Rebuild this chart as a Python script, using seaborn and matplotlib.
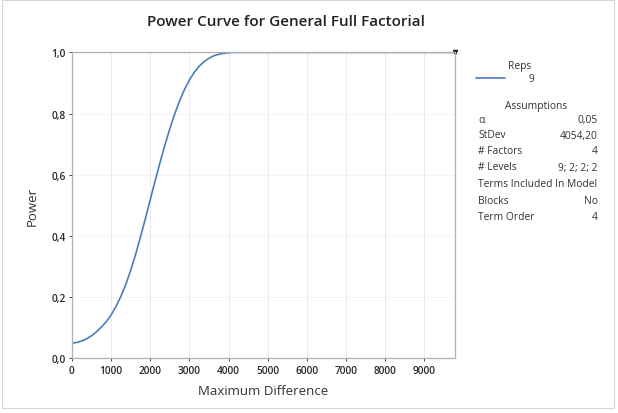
import matplotlib
matplotlib.use("Agg")
import matplotlib.pyplot as plt
import seaborn as sns
import pandas as pd

# Data
max_diff = [0, 125, 250, 375, 500, 625, 750, 875, 1000, 1125, 1250, 1375, 1500,
            1625, 1750, 1875, 2000, 2125, 2250, 2375, 2500, 2625, 2750, 2875,
            3000, 3125, 3250, 3375, 3500, 3625, 3750, 3875, 4000, 4125, 4500,
            5000, 6000, 7000, 8000, 9000, 9780]
power = [0.050, 0.052, 0.057, 0.064, 0.074, 0.087, 0.102, 0.120, 0.142, 0.170,
         0.203, 0.242, 0.288, 0.340, 0.397, 0.457, 0.519, 0.581, 0.641, 0.698,
         0.751, 0.799, 0.842, 0.879, 0.910, 0.935, 0.955, 0.970, 0.981, 0.989,
         0.994, 0.997, 0.999, 1.0, 1.0, 1.0, 1.0, 1.0, 1.0, 1.0, 1.0]
x_ticks = [0, 1000, 2000, 3000, 4000, 5000, 6000, 7000, 8000, 9000]
y_ticks = [0.0, 0.2, 0.4, 0.6, 0.8, 1.0]
y_tick_labels = ["0,0", "0,2", "0,4", "0,6", "0,8", "1,0"]
reps = "9"
assump_labels = ["α", "StDev", "# Factors", "# Levels"]
assump_values = ["0,05", "4054,20", "4", "9; 2; 2; 2"]
model_labels = ["Blocks", "Term Order"]
model_values = ["No", "4"]

df = pd.DataFrame({"Maximum Difference": max_diff, "Power": power})

sns.set_theme(style="white")
plt.rcParams["font.family"] = ["Open Sans", "DejaVu Sans"]

fig = plt.figure(figsize=(6.18, 4.14), dpi=100)
fig.patch.set_facecolor("white")
ax = fig.add_axes([0.1165, 0.132, 0.6195, 0.739])

sns.lineplot(data=df, x="Maximum Difference", y="Power", ax=ax,
             color="#4a7ebb", linewidth=1.2)
ax.plot([max_diff[-1]], [power[-1]], marker="v", color="#222222",
        markersize=3, clip_on=False)

ax.set_xlim(0, max_diff[-1])
ax.set_ylim(0, 1.0)
ax.set_xticks(x_ticks)
ax.set_xticklabels([str(t) for t in x_ticks])
ax.set_yticks(y_ticks)
ax.set_yticklabels(y_tick_labels)
ax.tick_params(axis="both", labelsize=7.3, colors="#2a2a2a", length=2.5,
               width=0.6, pad=2, direction="out", bottom=True, left=True)
for lbl in ax.get_xticklabels() + ax.get_yticklabels():
    lbl.set_fontweight("semibold")
for s in ax.spines.values():
    s.set_color("#b0b0b0")
    s.set_linewidth(0.9)
ax.grid(True, axis="x", color="#e6e6e6", linewidth=0.6)
ax.grid(True, axis="y", color="#f2f2f2", linewidth=0.6)
ax.set_axisbelow(True)
ax.set_xlabel("Maximum Difference", fontsize=9.5, color="#333333", labelpad=6)
ax.set_ylabel("Power", fontsize=9.5, color="#333333", labelpad=9)

fig.text(0.462, 0.948, "Power Curve for General Full Factorial", ha="center",
         va="center", fontsize=11, color="#222222", fontweight="semibold")

# Legend / annotation panel
tc = "#333333"
fs = 7.4
W, H = 618, 414
def fx(px): return px / W
def fy(py): return 1 - py / H

fig.text(fx(520), fy(66), "Reps", ha="center", va="center", fontsize=fs, color=tc)
fig.add_artist(plt.Line2D([fx(476), fx(505)], [fy(79), fy(79)], color="#4a7ebb",
                          linewidth=1.2, transform=fig.transFigure))
fig.text(fx(531), fy(80), reps, ha="center", va="center", fontsize=fs, color=tc)
fig.text(fx(536), fy(106), "Assumptions", ha="center", va="center", fontsize=fs, color=tc)
ys = [121, 136, 152, 168]
for lab, val, yy in zip(assump_labels, assump_values, ys):
    fig.text(fx(478), fy(yy), lab, ha="left", va="center", fontsize=fs, color=tc)
    fig.text(fx(598), fy(yy), val, ha="right", va="center", fontsize=fs, color=tc)
fig.text(fx(538), fy(185), "Terms Included In Model", ha="center", va="center",
         fontsize=fs, color=tc)
for lab, val, yy in zip(model_labels, model_values, [202, 218]):
    fig.text(fx(478), fy(yy), lab, ha="left", va="center", fontsize=fs, color=tc)
    fig.text(fx(598), fy(yy), val, ha="right", va="center", fontsize=fs, color=tc)

# light outer frame
fig.add_artist(plt.Rectangle((0.004, 0.012), 0.99, 0.985, fill=False,
                             edgecolor="#d8d8d8", linewidth=0.8,
                             transform=fig.transFigure))

fig.savefig("out.png", dpi=100)
